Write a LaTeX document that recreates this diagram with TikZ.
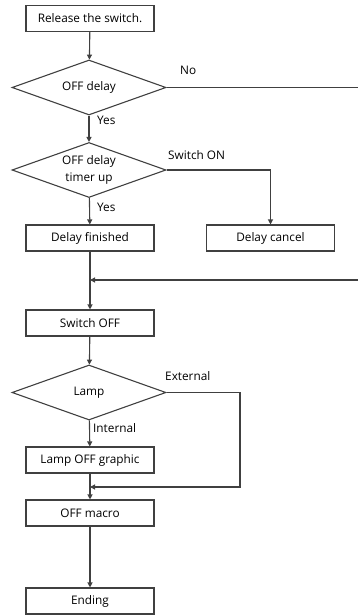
\documentclass[tikz,border=0pt]{standalone}
\usepackage{fontspec}
\setmainfont{Open Sans}
\usetikzlibrary{positioning,arrows.meta,shapes.geometric}
\definecolor{cLine}{HTML}{404040}

\begin{document}
\begin{tikzpicture}[
  x=1pt, y=-1pt, font=\fontsize{11.8}{17}\selectfont,
  box/.style={draw=cLine, line width=1.1pt, minimum width=128pt, minimum height=26pt, inner sep=1pt, align=center},
  cond/.style={draw=cLine, line width=1.1pt, diamond, aspect=2.8, minimum width=154pt, minimum height=55pt, inner sep=0pt, align=center},
  lbl/.style={inner sep=0pt, anchor=west},
  arr/.style={-{Triangle[length=5pt, width=5pt]}, draw=cLine, line width=1.1pt},
  ln/.style={draw=cLine, line width=1.1pt}
]
\useasboundingbox (0,0) rectangle (358,615);
% main column
\node[box] (rel) at (90,18.5) {Release the switch.};
\node[cond] (d1) at (89,87.5) {OFF delay};
\node[cond] (d2) at (89,170) {OFF delay\\timer up};
\node[box] (fin) at (90,238) {Delay finished};
\node[box] (can) at (270.5,238) {Delay cancel};
\node[box] (soff) at (90,323) {Switch OFF};
\node[cond] (d3) at (89,392.5) {Lamp};
\node[box] (gfx) at (90,460) {Lamp OFF graphic};
\node[box] (mac) at (90,513) {OFF macro};
\node[box] (end) at (90,601) {Ending};
% branch labels
\node[lbl] (no) at (180,70) {No};
\node[lbl] (y1) at (97,120) {Yes};
\node[lbl] (son) at (168,155) {Switch ON};
\node[lbl] (y2) at (97,207) {Yes};
\node[lbl] (ext) at (165,376) {External};
\node[lbl] (int) at (93,428) {Internal};
% free ends at the right edge
\coordinate (noR) at (358,87.5);
\coordinate (retR) at (358,280);
\coordinate (ret) at (90,280);
\coordinate (extR) at (240,392.5);
\coordinate (extB) at (240,487);
\coordinate (mrg) at (90,487);
\draw[arr] (rel)--(d1);
\draw[arr] (d1)--(d2);
\draw[arr] (d2)--(fin);
\draw[arr] (fin)--(soff);
\draw[arr] (soff)--(d3);
\draw[arr] (d3)--(gfx);
\draw[arr] (gfx)--(mac);
\draw[arr] (mac)--(end);
\draw[ln] (d1.east)--(noR);
\draw[arr] (retR)--(ret);
\draw[arr] (d2.east)-|(can.north);
\draw[arr] (d3.east)--(extR)--(extB)--(mrg);
\end{tikzpicture}
\end{document}
